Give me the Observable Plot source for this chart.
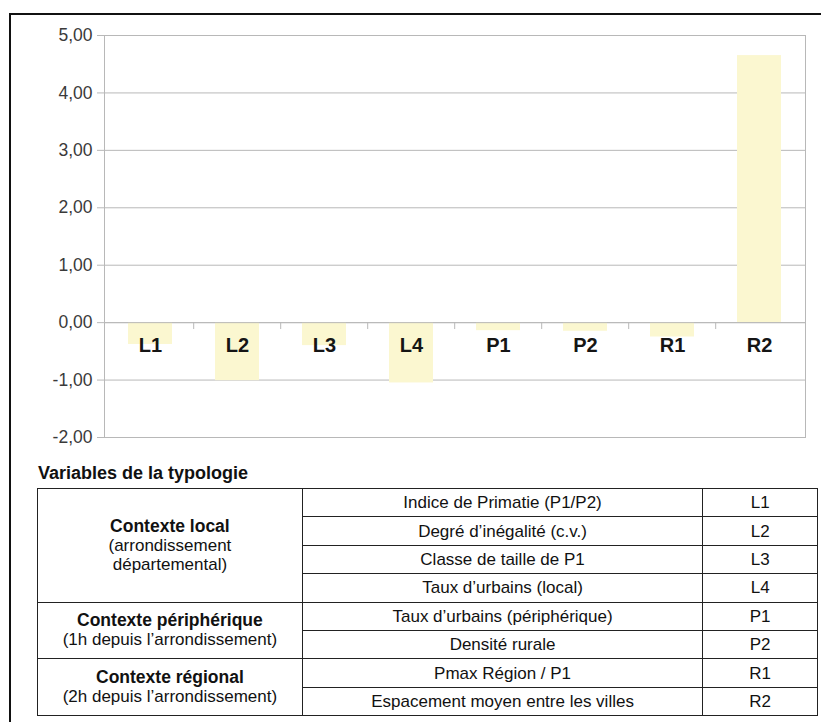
<!DOCTYPE html>
<html>
<head>
<meta charset="utf-8">
<script src="https://cdn.jsdelivr.net/npm/d3@7"></script>
<script src="https://cdn.jsdelivr.net/npm/@observablehq/plot@0.6"></script>
<style>
  html, body { margin: 0; padding: 0; background: #fff; }
  body { width: 821px; height: 722px; position: relative; overflow: hidden; font-family: "Liberation Sans", Arial, sans-serif; }
  #frame { position: absolute; left: 9px; top: 13px; width: 900px; height: 900px; border: 2px solid #111; box-sizing: border-box; }
  #chart { position: absolute; left: 0; top: 0; }
  #title { position: absolute; left: 38px; top: 464px; font-weight: bold; font-size: 18px; line-height: 18px; color: #111; white-space: nowrap; }
  #tbl { position: absolute; left: 37px; top: 488px; width: 781px; border-collapse: collapse; font-size: 17px; color: #111; }
  #tbl td { border: 1px solid #222; text-align: center; padding: 0; height: 27.4px; line-height: 19px; white-space: nowrap; }
  #tbl td.grp b { font-weight: bold; font-size: 17.5px; }
</style>
</head>
<body>
<div id="frame"></div>
<div id="chart"></div>
<div id="title">Variables de la typologie</div>
<table id="tbl"></table>
<script>
const categories = ["L1", "L2", "L3", "L4", "P1", "P2", "R1", "R2"];
const values = [-0.38, -1.01, -0.40, -1.05, -0.14, -0.15, -0.25, 4.65];
const yTicks = [-2, -1, 0, 1, 2, 3, 4, 5];

const groupTitles = ["Contexte local", "Contexte périphérique", "Contexte régional"];
const groupNotes = [["(arrondissement", "départemental)"], ["(1h depuis l’arrondissement)"], ["(2h depuis l’arrondissement)"]];
const groupSpans = [4, 2, 2];
const variableNames = [
  "Indice de Primatie (P1/P2)",
  "Degré d’inégalité (c.v.)",
  "Classe de taille de P1",
  "Taux d’urbains (local)",
  "Taux d’urbains (périphérique)",
  "Densité rurale",
  "Pmax Région / P1",
  "Espacement moyen entre les villes"
];

const data = categories.map((c, i) => ({cat: c, value: values[i]}));
const fmt = d => d3.format(".2f")(d).replace(".", ",").replace("−", "-");

const W = 821, ML = 104, MR = 16;
const step = (W - ML - MR) / categories.length;
const gridColor = "#b8b8b8";

const chart = Plot.plot({
  width: W,
  height: 452,
  marginLeft: ML,
  marginRight: MR,
  marginTop: 35,
  marginBottom: 15,
  style: {fontFamily: "'Liberation Sans', Arial, sans-serif", background: "transparent"},
  x: {domain: categories, paddingInner: 0.5, paddingOuter: 0.25, axis: null},
  y: {domain: [-2, 5], axis: null, label: null},
  marks: [
    Plot.gridY(yTicks, {stroke: gridColor, strokeOpacity: 1}),
    Plot.frame({stroke: gridColor}),
    Plot.barY(data, {x: "cat", y: "value", fill: "#fbf7d0"}),
    Plot.ruleY([0], {stroke: gridColor}),
    Plot.ruleX(categories.slice(1), {x: d => d, y1: 0, y2: -0.12, dx: -step / 2, stroke: gridColor}),
    Plot.text(data, {x: "cat", y: 0, text: "cat", dy: 23, fontSize: 20, fontWeight: "bold", fill: "#151515"}),
    Plot.axisY(yTicks, {label: null, tickFormat: fmt, tickSize: 7, tickPadding: 5, fontSize: 17.5, stroke: gridColor, fill: "#3a3a3a"})
  ]
});
document.getElementById("chart").appendChild(chart);

// Table built from arrays
const tbl = document.getElementById("tbl");
const colgroup = document.createElement("colgroup");
[265, 401, 115].forEach(w => { const c = document.createElement("col"); c.style.width = w + "px"; colgroup.appendChild(c); });
tbl.appendChild(colgroup);
let row = 0;
groupTitles.forEach((g, gi) => {
  for (let k = 0; k < groupSpans[gi]; k++) {
    const tr = document.createElement("tr");
    if (k === 0) {
      const td = document.createElement("td");
      td.className = "grp";
      td.rowSpan = groupSpans[gi];
      td.innerHTML = "<b>" + g + "</b><br>" + groupNotes[gi].join("<br>");
      tr.appendChild(td);
    }
    const td2 = document.createElement("td");
    td2.textContent = variableNames[row];
    const td3 = document.createElement("td");
    td3.textContent = categories[row];
    tr.appendChild(td2);
    tr.appendChild(td3);
    tbl.appendChild(tr);
    row++;
  }
});
</script>
</body>
</html>
